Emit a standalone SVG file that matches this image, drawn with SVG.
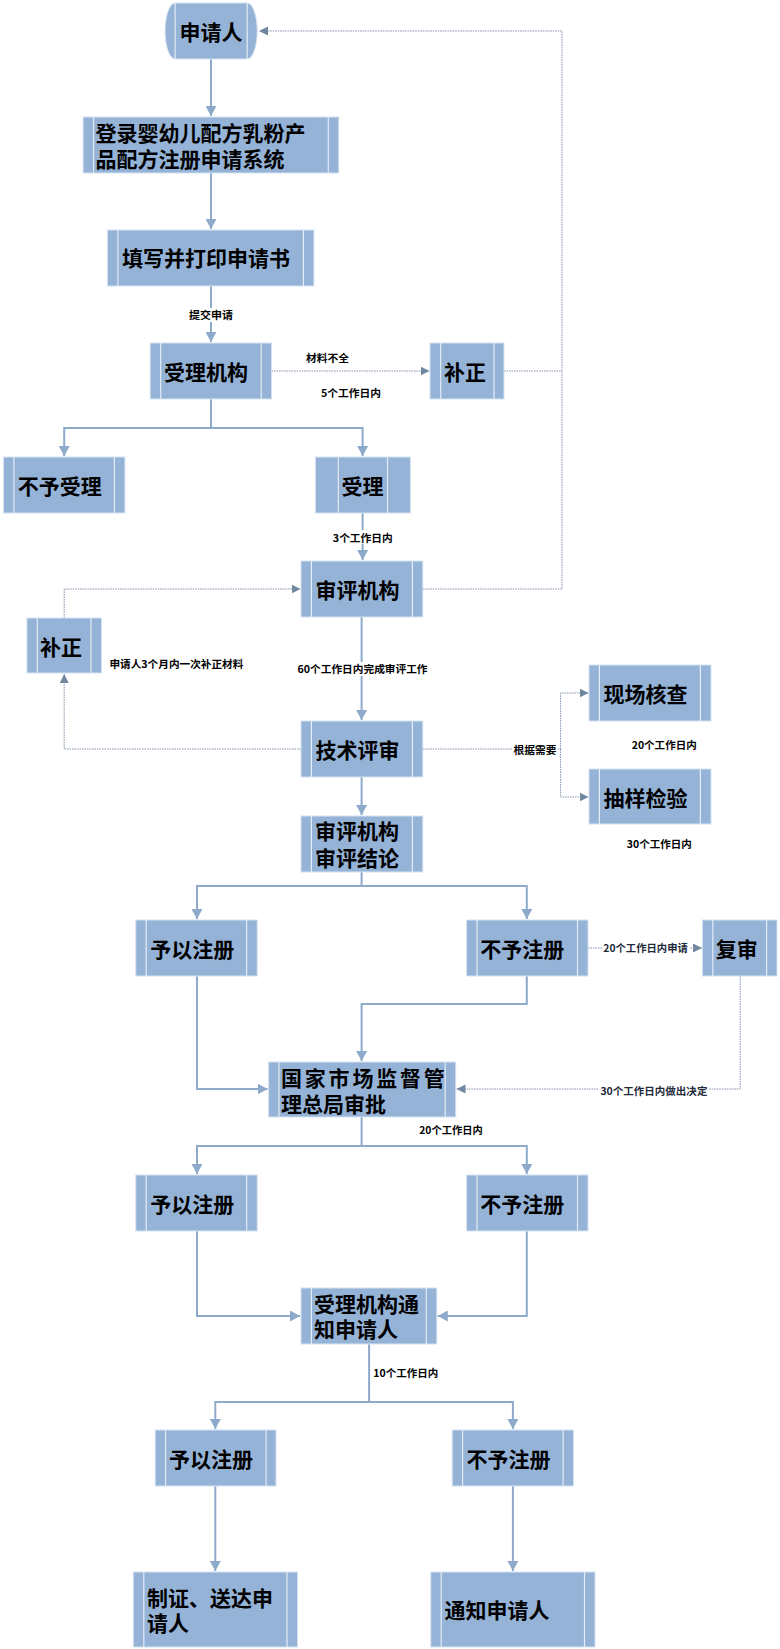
<svg xmlns="http://www.w3.org/2000/svg" width="780" height="1649" viewBox="0 0 780 1649">
<style>
.box{fill:#95b3d7;stroke:#d6e2f0;stroke-width:1}
.bar{stroke:#e4ecf5;stroke-width:1.2}
.t{font-family:"Noto Sans CJK SC","Noto Sans CJK JP",sans-serif;font-size:21px;font-weight:700;fill:#000;dominant-baseline:central}
.m{text-anchor:middle}
.s{font-family:"Noto Sans CJK SC","Noto Sans CJK JP",sans-serif;font-size:10.5px;font-weight:700;fill:#000;dominant-baseline:central}
.sd{fill:#1e2a3a}
.c{fill:none;stroke:#8eaacb;stroke-width:2}
.d{fill:none;stroke:#8092aa;stroke-width:1;stroke-dasharray:1.5 1}
.bg{fill:#fff}
</style>
<defs>
<marker id="as" markerUnits="userSpaceOnUse" markerWidth="11" markerHeight="11" refX="10" refY="5.5" orient="auto">
<path d="M0,0 L10,5.5 L0,11 Z" fill="#8eaacb"/>
</marker>
<marker id="ad" markerUnits="userSpaceOnUse" markerWidth="10" markerHeight="10" refX="9" refY="4.5" orient="auto">
<path d="M0,0 L9,4.5 L0,9 Z" fill="#71879f"/>
</marker>
</defs>
<rect width="780" height="1649" fill="#fff"/>

<g id="connectors">
<path class="c" d="M211,59 V116" marker-end="url(#as)"/>
<path class="c" d="M211,173 V229" marker-end="url(#as)"/>
<path class="c" d="M211,286 V342" marker-end="url(#as)"/>
<path class="c" d="M211,399 V428 H64.2 V456" marker-end="url(#as)"/>
<path class="c" d="M211,428 H362.6 V456" marker-end="url(#as)"/>
<path class="c" d="M362.6,513 V560" marker-end="url(#as)"/>
<path class="c" d="M361.6,617 V720" marker-end="url(#as)"/>
<path class="c" d="M361.6,777 V815" marker-end="url(#as)"/>
<path class="c" d="M361.6,872 V886 H197 V919" marker-end="url(#as)"/>
<path class="c" d="M361.6,886 H526.8 V919" marker-end="url(#as)"/>
<path class="c" d="M197,976 V1089 H267.6" marker-end="url(#as)"/>
<path class="c" d="M526.8,976 V1004 H361.6 V1061" marker-end="url(#as)"/>
<path class="c" d="M361.6,1117 V1146 H197 V1174" marker-end="url(#as)"/>
<path class="c" d="M361.6,1146 H526.8 V1174" marker-end="url(#as)"/>
<path class="c" d="M197,1231 V1316 H300" marker-end="url(#as)"/>
<path class="c" d="M526.8,1231 V1316 H437.8" marker-end="url(#as)"/>
<path class="c" d="M369.1,1344 V1402 H215.3 V1429" marker-end="url(#as)"/>
<path class="c" d="M369.1,1402 H512.9 V1429" marker-end="url(#as)"/>
<path class="c" d="M215.3,1486 V1571" marker-end="url(#as)"/>
<path class="c" d="M512.9,1486 V1571" marker-end="url(#as)"/>

<path class="d" d="M271.6,371 H429.5" marker-end="url(#ad)"/>
<path class="d" d="M504,371 H562"/>
<path class="d" d="M422.8,589 H562 V31 H259" marker-end="url(#ad)"/>
<path class="d" d="M64.2,618 V589 H300.5" marker-end="url(#ad)"/>
<path class="d" d="M301,749 H64.2 V674" marker-end="url(#ad)"/>
<path class="d" d="M422.8,749 H560.6 V693 H588.5" marker-end="url(#ad)"/>
<path class="d" d="M560.6,749 V797 H588.5" marker-end="url(#ad)"/>
<path class="d" d="M588,948 H702" marker-end="url(#ad)"/>
<path class="d" d="M740.2,976 V1089 H456.5" marker-end="url(#ad)"/>

<rect class="bg" x="187" y="308" width="48" height="14"/>
<text class="s" x="189" y="314.7" textLength="44" lengthAdjust="spacingAndGlyphs">提交申请</text>
<text class="s" x="306" y="357.5" textLength="43" lengthAdjust="spacingAndGlyphs">材料不全</text>
<text class="s" x="321" y="392" textLength="60" lengthAdjust="spacingAndGlyphs">5个工作日内</text>
<rect class="bg" x="331" y="530" width="63" height="14"/>
<text class="s" x="332.8" y="537" textLength="60" lengthAdjust="spacingAndGlyphs">3个工作日内</text>
<text class="s" x="109.4" y="663.5" textLength="134" lengthAdjust="spacingAndGlyphs">申请人3个月内一次补正材料</text>
<rect class="bg" x="296" y="662" width="133" height="14"/>
<text class="s" x="297.5" y="668.7" textLength="130" lengthAdjust="spacingAndGlyphs">60个工作日内完成审评工作</text>
<rect class="bg" x="512" y="743" width="46" height="13"/>
<text class="s" x="513.4" y="749.5" textLength="43" lengthAdjust="spacingAndGlyphs">根据需要</text>
<text class="s" x="631.7" y="744.7" textLength="65" lengthAdjust="spacingAndGlyphs">20个工作日内</text>
<text class="s" x="626.8" y="843.8" textLength="65" lengthAdjust="spacingAndGlyphs">30个工作日内</text>
<rect class="bg" x="602" y="941" width="88" height="13"/>
<text class="s sd" x="603.3" y="947.5" textLength="84.5" lengthAdjust="spacingAndGlyphs">20个工作日内申请</text>
<rect class="bg" x="599" y="1083" width="110" height="13"/>
<text class="s sd" x="600.4" y="1090" textLength="107" lengthAdjust="spacingAndGlyphs">30个工作日内做出决定</text>
<text class="s" x="419.3" y="1129" textLength="63.5" lengthAdjust="spacingAndGlyphs">20个工作日内</text>
<text class="s" x="373.3" y="1372" textLength="65" lengthAdjust="spacingAndGlyphs">10个工作日内</text>
</g>

<g id="n_applicant">
<path class="box" d="M175.1,3 H247.2 A10,28 0 0 1 247.2,59 H175.1 A10,28 0 0 1 175.1,3 Z"/>
<line class="bar" x1="175.1" y1="3" x2="175.1" y2="59"/><line class="bar" x1="247.2" y1="3" x2="247.2" y2="59"/>
<text class="t m" x="211" y="31">申请人</text>
</g>

<g id="n_login">
<rect class="box" x="83.1" y="117" width="255.7" height="56"/>
<line class="bar" x1="93.5" y1="117" x2="93.5" y2="173"/><line class="bar" x1="328.3" y1="117" x2="328.3" y2="173"/>
<text class="t"><tspan x="95.5" y="131.5">登录婴幼儿配方乳粉产</tspan><tspan x="95.5" y="158">品配方注册申请系统</tspan></text>
</g>

<g id="n_fill">
<rect class="box" x="107.4" y="230" width="206.5" height="56"/>
<line class="bar" x1="117.9" y1="230" x2="117.9" y2="286"/><line class="bar" x1="303.4" y1="230" x2="303.4" y2="286"/>
<text class="t m" x="206" y="257">填写并打印申请书</text>
</g>

<g id="n_accept_org">
<rect class="box" x="150.2" y="343" width="121.4" height="56"/>
<line class="bar" x1="160.7" y1="343" x2="160.7" y2="399"/><line class="bar" x1="261.2" y1="343" x2="261.2" y2="399"/>
<text class="t m" x="206" y="371">受理机构</text>
</g>

<g id="n_fix1">
<rect class="box" x="430" y="343" width="74" height="56"/>
<line class="bar" x1="440.7" y1="343" x2="440.7" y2="399"/><line class="bar" x1="494" y1="343" x2="494" y2="399"/>
<text class="t m" x="465" y="371">补正</text>
</g>

<g id="n_reject_accept">
<rect class="box" x="3.5" y="457" width="121.4" height="56"/>
<line class="bar" x1="13.9" y1="457" x2="13.9" y2="513"/><line class="bar" x1="114.4" y1="457" x2="114.4" y2="513"/>
<text class="t m" x="59.7" y="485">不予受理</text>
</g>

<g id="n_accept">
<rect class="box" x="315.4" y="457" width="95" height="56"/>
<line class="bar" x1="338.3" y1="457" x2="338.3" y2="513"/><line class="bar" x1="387.5" y1="457" x2="387.5" y2="513"/>
<text class="t m" x="362.4" y="485">受理</text>
</g>

<g id="n_review_org">
<rect class="box" x="301" y="561" width="121.8" height="56"/>
<line class="bar" x1="311.4" y1="561" x2="311.4" y2="617"/><line class="bar" x1="412.4" y1="561" x2="412.4" y2="617"/>
<text class="t m" x="357.4" y="589">审评机构</text>
</g>

<g id="n_fix2">
<rect class="box" x="26.9" y="618" width="74.6" height="55"/>
<line class="bar" x1="37.3" y1="618" x2="37.3" y2="673"/><line class="bar" x1="91" y1="618" x2="91" y2="673"/>
<text class="t m" x="61" y="646">补正</text>
</g>

<g id="n_tech">
<rect class="box" x="301" y="721" width="121.8" height="56"/>
<line class="bar" x1="311.4" y1="721" x2="311.4" y2="777"/><line class="bar" x1="412.4" y1="721" x2="412.4" y2="777"/>
<text class="t m" x="357.4" y="749">技术评审</text>
</g>

<g id="n_onsite">
<rect class="box" x="589" y="665" width="122" height="56"/>
<line class="bar" x1="599.4" y1="665" x2="599.4" y2="721"/><line class="bar" x1="700.4" y1="665" x2="700.4" y2="721"/>
<text class="t m" x="645.5" y="693">现场核查</text>
</g>

<g id="n_sample">
<rect class="box" x="589" y="769" width="122" height="55"/>
<line class="bar" x1="599.4" y1="769" x2="599.4" y2="824"/><line class="bar" x1="700.4" y1="769" x2="700.4" y2="824"/>
<text class="t m" x="645.5" y="797">抽样检验</text>
</g>

<g id="n_conclusion">
<rect class="box" x="301" y="816" width="121.8" height="56"/>
<line class="bar" x1="311.4" y1="816" x2="311.4" y2="872"/><line class="bar" x1="412.4" y1="816" x2="412.4" y2="872"/>
<text class="t"><tspan x="315" y="830">审评机构</tspan><tspan x="315" y="856.7">审评结论</tspan></text>
</g>

<g id="n_grant1">
<rect class="box" x="135.8" y="920" width="121.4" height="56"/>
<line class="bar" x1="146.2" y1="920" x2="146.2" y2="976"/><line class="bar" x1="246.7" y1="920" x2="246.7" y2="976"/>
<text class="t m" x="192.3" y="948">予以注册</text>
</g>

<g id="n_deny1">
<rect class="box" x="466.6" y="920" width="121.4" height="56"/>
<line class="bar" x1="477" y1="920" x2="477" y2="976"/><line class="bar" x1="577.5" y1="920" x2="577.5" y2="976"/>
<text class="t m" x="522.3" y="948">不予注册</text>
</g>

<g id="n_recheck">
<rect class="box" x="702.4" y="920" width="74.6" height="56"/>
<line class="bar" x1="712.8" y1="920" x2="712.8" y2="976"/><line class="bar" x1="766.6" y1="920" x2="766.6" y2="976"/>
<text class="t m" x="736.7" y="948">复审</text>
</g>

<g id="n_samr">
<rect class="box" x="268.6" y="1062" width="187.1" height="55"/>
<line class="bar" x1="279" y1="1062" x2="279" y2="1117"/><line class="bar" x1="445.2" y1="1062" x2="445.2" y2="1117"/>
<text class="t"><tspan x="281" y="1077" letter-spacing="2.8">国家市场监督管</tspan><tspan x="281" y="1103">理总局审批</tspan></text>
</g>

<g id="n_grant2">
<rect class="box" x="135.8" y="1175" width="121.4" height="56"/>
<line class="bar" x1="146.2" y1="1175" x2="146.2" y2="1231"/><line class="bar" x1="246.7" y1="1175" x2="246.7" y2="1231"/>
<text class="t m" x="192.3" y="1203">予以注册</text>
</g>

<g id="n_deny2">
<rect class="box" x="466.6" y="1175" width="121.4" height="56"/>
<line class="bar" x1="477" y1="1175" x2="477" y2="1231"/><line class="bar" x1="577.5" y1="1175" x2="577.5" y2="1231"/>
<text class="t m" x="522.3" y="1203">不予注册</text>
</g>

<g id="n_notify_org">
<rect class="box" x="301" y="1288" width="135.8" height="56"/>
<line class="bar" x1="311.4" y1="1288" x2="311.4" y2="1344"/><line class="bar" x1="426.3" y1="1288" x2="426.3" y2="1344"/>
<text class="t"><tspan x="314" y="1303">受理机构通</tspan><tspan x="314" y="1328">知申请人</tspan></text>
</g>

<g id="n_grant3">
<rect class="box" x="155.2" y="1430" width="120.8" height="56"/>
<line class="bar" x1="165.6" y1="1430" x2="165.6" y2="1486"/><line class="bar" x1="266.1" y1="1430" x2="266.1" y2="1486"/>
<text class="t m" x="211" y="1458">予以注册</text>
</g>

<g id="n_deny3">
<rect class="box" x="452.2" y="1430" width="121.3" height="56"/>
<line class="bar" x1="462.6" y1="1430" x2="462.6" y2="1486"/><line class="bar" x1="563.1" y1="1430" x2="563.1" y2="1486"/>
<text class="t m" x="508.6" y="1458">不予注册</text>
</g>

<g id="n_cert">
<rect class="box" x="133.3" y="1572" width="164.2" height="75"/>
<line class="bar" x1="143.8" y1="1572" x2="143.8" y2="1647"/><line class="bar" x1="287" y1="1572" x2="287" y2="1647"/>
<text class="t"><tspan x="147" y="1596.5">制证、送达申</tspan><tspan x="147" y="1621.5">请人</tspan></text>
</g>

<g id="n_notify">
<rect class="box" x="430.8" y="1572" width="164.2" height="75"/>
<line class="bar" x1="441.2" y1="1572" x2="441.2" y2="1647"/><line class="bar" x1="584.5" y1="1572" x2="584.5" y2="1647"/>
<text class="t m" x="497" y="1609">通知申请人</text>
</g>
</svg>
